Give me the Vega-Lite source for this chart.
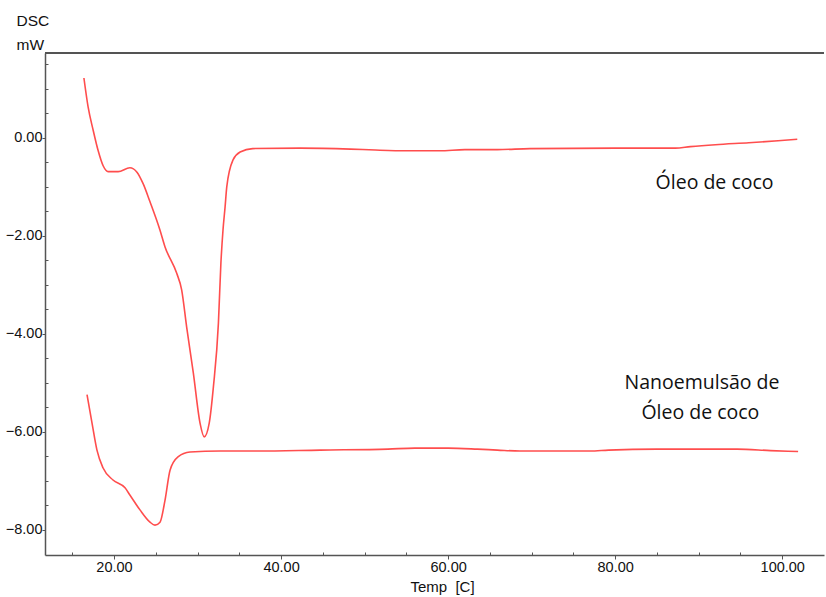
{
  "$schema": "https://vega.github.io/schema/vega-lite/v6.json",
  "width": 779,
  "height": 502,
  "autosize": {"type": "none"},
  "padding": {"left": 45, "top": 53, "right": 2, "bottom": 42},
  "background": "white",
  "config": {"view": {"stroke": null}},
  "resolve": {"axis": {"x": "independent", "y": "independent"}},
  "datasets": {
    "curves": [
      {"s": "oleo", "t": 16.4, "v": 1.22},
      {"s": "oleo", "t": 16.9, "v": 0.63},
      {"s": "oleo", "t": 17.5, "v": 0.16},
      {"s": "oleo", "t": 18.1, "v": -0.26},
      {"s": "oleo", "t": 18.7, "v": -0.57},
      {"s": "oleo", "t": 19.3, "v": -0.69},
      {"s": "oleo", "t": 20.5, "v": -0.69},
      {"s": "oleo", "t": 21.9, "v": -0.61},
      {"s": "oleo", "t": 22.75, "v": -0.70},
      {"s": "oleo", "t": 23.5, "v": -0.94},
      {"s": "oleo", "t": 24.3, "v": -1.30},
      {"s": "oleo", "t": 25.5, "v": -1.88},
      {"s": "oleo", "t": 26.1, "v": -2.22},
      {"s": "oleo", "t": 27.5, "v": -2.76},
      {"s": "oleo", "t": 28.1, "v": -3.10},
      {"s": "oleo", "t": 28.7, "v": -3.86},
      {"s": "oleo", "t": 29.5, "v": -4.80},
      {"s": "oleo", "t": 30.3, "v": -5.82},
      {"s": "oleo", "t": 30.8, "v": -6.10},
      {"s": "oleo", "t": 31.4, "v": -5.82},
      {"s": "oleo", "t": 31.9, "v": -5.08},
      {"s": "oleo", "t": 32.5, "v": -3.78},
      {"s": "oleo", "t": 32.8, "v": -2.55},
      {"s": "oleo", "t": 33.05, "v": -1.88},
      {"s": "oleo", "t": 33.3, "v": -1.41},
      {"s": "oleo", "t": 33.5, "v": -1.0},
      {"s": "oleo", "t": 34.25, "v": -0.45},
      {"s": "oleo", "t": 35.1, "v": -0.29},
      {"s": "oleo", "t": 36.6, "v": -0.22},
      {"s": "oleo", "t": 42.3, "v": -0.21},
      {"s": "oleo", "t": 48.3, "v": -0.23},
      {"s": "oleo", "t": 51.3, "v": -0.25},
      {"s": "oleo", "t": 55.0, "v": -0.265},
      {"s": "oleo", "t": 59.0, "v": -0.265},
      {"s": "oleo", "t": 62.0, "v": -0.24},
      {"s": "oleo", "t": 65.9, "v": -0.24},
      {"s": "oleo", "t": 69.8, "v": -0.22},
      {"s": "oleo", "t": 80.0, "v": -0.21},
      {"s": "oleo", "t": 87.2, "v": -0.21},
      {"s": "oleo", "t": 89.0, "v": -0.18},
      {"s": "oleo", "t": 92.0, "v": -0.14},
      {"s": "oleo", "t": 96.0, "v": -0.10},
      {"s": "oleo", "t": 99.5, "v": -0.06},
      {"s": "oleo", "t": 101.8, "v": -0.03},
      {"s": "nano", "t": 16.77, "v": -5.24},
      {"s": "nano", "t": 17.37, "v": -5.82},
      {"s": "nano", "t": 17.96, "v": -6.37},
      {"s": "nano", "t": 18.68, "v": -6.73},
      {"s": "nano", "t": 19.88, "v": -6.98},
      {"s": "nano", "t": 21.32, "v": -7.14},
      {"s": "nano", "t": 21.92, "v": -7.29},
      {"s": "nano", "t": 23.11, "v": -7.59},
      {"s": "nano", "t": 24.31, "v": -7.84},
      {"s": "nano", "t": 24.91, "v": -7.90},
      {"s": "nano", "t": 25.51, "v": -7.84},
      {"s": "nano", "t": 26.11, "v": -7.39},
      {"s": "nano", "t": 26.71, "v": -6.78},
      {"s": "nano", "t": 27.66, "v": -6.51},
      {"s": "nano", "t": 29.1, "v": -6.41},
      {"s": "nano", "t": 32.7, "v": -6.39},
      {"s": "nano", "t": 37.2, "v": -6.39},
      {"s": "nano", "t": 44.7, "v": -6.37},
      {"s": "nano", "t": 52.8, "v": -6.35},
      {"s": "nano", "t": 56.0, "v": -6.33},
      {"s": "nano", "t": 60.0, "v": -6.33},
      {"s": "nano", "t": 63.5, "v": -6.35},
      {"s": "nano", "t": 65.9, "v": -6.37},
      {"s": "nano", "t": 68.6, "v": -6.39},
      {"s": "nano", "t": 77.0, "v": -6.39},
      {"s": "nano", "t": 79.2, "v": -6.37},
      {"s": "nano", "t": 85.0, "v": -6.35},
      {"s": "nano", "t": 94.6, "v": -6.35},
      {"s": "nano", "t": 98.6, "v": -6.38},
      {"s": "nano", "t": 101.9, "v": -6.40}
    ],
    "labels": [
      {"t": 91.9, "v": -0.92, "label": "Óleo de coco"},
      {"t": 90.4, "v": -5.0, "label": "Nanoemulsão de"},
      {"t": 90.2, "v": -5.61, "label": "Óleo de coco"}
    ]
  },
  "layer": [
    {
      "data": {"name": "curves"},
      "mark": {"type": "line", "color": "#ff4d4d", "strokeWidth": 1.6, "interpolate": "monotone"},
      "encoding": {
        "x": {
          "field": "t", "type": "quantitative",
          "scale": {"domain": [11.74, 105.0], "nice": false, "zero": false},
          "axis": {
            "orient": "bottom",
            "values": [20, 40, 60, 80, 100],
            "format": ".2f",
            "title": "Temp\u00a0\u00a0[C]",
            "titleX": 397,
            "titleY": 24,
            "titleBaseline": "top",
            "titleFont": "Liberation Sans",
            "titleFontSize": 15,
            "titleFontWeight": "normal",
            "titleColor": "#111",
            "labelFont": "Liberation Sans",
            "labelFontSize": 14.5,
            "labelColor": "#111",
            "labelPadding": 1,
            "tickSize": 4,
            "tickColor": "#555",
            "domainColor": "#555",
            "domainWidth": 1.5,
            "grid": false
          }
        },
        "y": {
          "field": "v", "type": "quantitative",
          "scale": {"domain": [-8.51, 1.73], "nice": false, "zero": false},
          "axis": {
            "orient": "left",
            "values": [-8, -6, -4, -2, 0],
            "format": ".2f",
            "title": ["DSC", "mW"],
            "titleAngle": 0,
            "titleAlign": "left",
            "titleBaseline": "top",
            "titleX": -29,
            "titleY": -40,
            "titleLineHeight": 24,
            "titleFont": "Liberation Sans",
            "titleFontSize": 15.5,
            "titleFontWeight": "normal",
            "titleColor": "#111",
            "labelFont": "Liberation Sans",
            "labelFontSize": 14.5,
            "labelColor": "#111",
            "labelPadding": 0,
            "tickSize": 3,
            "tickColor": "#555",
            "domainColor": "#555",
            "domainWidth": 1.5,
            "grid": false
          }
        },
        "detail": {"field": "s"}
      }
    },
    {
      "data": {"name": "curves"},
      "mark": {"type": "point", "opacity": 0},
      "encoding": {
        "x": {
          "field": "t", "type": "quantitative",
          "axis": {
            "orient": "bottom",
            "values": [15, 25, 30, 35, 45, 50, 55, 65, 70, 75, 85, 90, 95],
            "labels": false, "domain": false, "title": null, "grid": false,
            "tickSize": -3, "tickColor": "#555"
          }
        },
        "y": {
          "field": "v", "type": "quantitative",
          "axis": {
            "orient": "left",
            "values": [-7.5, -7, -6.5, -5.5, -5, -4.5, -3.5, -3, -2.5, -1.5, -1, -0.5, 0.5, 1, 1.5],
            "labels": false, "domain": false, "title": null, "grid": false,
            "tickSize": -3, "tickColor": "#555"
          }
        }
      }
    },
    {
      "data": {"name": "curves"},
      "mark": {"type": "rule", "color": "#555", "strokeWidth": 1.5},
      "encoding": {"y": {"datum": 1.73, "axis": null}}
    },
    {
      "data": {"name": "labels"},
      "mark": {"type": "text", "font": "Open Sans", "fontSize": 19.5, "color": "#111", "align": "center", "baseline": "middle"},
      "encoding": {
        "x": {"field": "t", "type": "quantitative", "axis": null},
        "y": {"field": "v", "type": "quantitative", "axis": null},
        "text": {"field": "label"}
      }
    }
  ]
}
